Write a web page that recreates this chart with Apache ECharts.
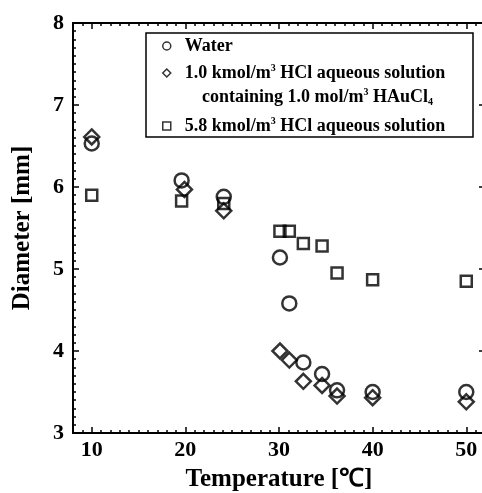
<!DOCTYPE html>
<html>
<head>
<meta charset="utf-8">
<script src="https://cdn.jsdelivr.net/npm/echarts@6/dist/echarts.min.js"></script>
<style>html,body{margin:0;padding:0;background:#fff;}#c{width:482px;height:493px;}</style>
</head>
<body>
<div id="c"></div>
<script>
// Data
var waterT = [10, 19.6, 24.1, 30.1, 31.1, 32.6, 34.6, 36.2, 40.0, 50.0];
var waterD = [6.53, 6.08, 5.88, 5.14, 4.58, 3.86, 3.72, 3.52, 3.50, 3.50];
var hclT = [10, 19.9, 24.1, 30.1, 31.1, 32.6, 34.6, 36.2, 40.0, 50.0];
var hclD = [6.61, 5.97, 5.71, 4.00, 3.89, 3.63, 3.58, 3.45, 3.43, 3.38];
var hcl58T = [10, 19.6, 24.1, 30.1, 31.1, 32.6, 34.6, 36.2, 40.0, 50.0];
var hcl58D = [5.90, 5.83, 5.80, 5.46, 5.46, 5.31, 5.28, 4.95, 4.87, 4.85];
var seriesNames = ['Water', '1.0 kmol/m3 HCl aqueous solution', '5.8 kmol/m3 HCl aqueous solution'];
var xLabels = [10, 20, 30, 40, 50];
var yLabels = [3, 4, 5, 6, 7, 8];

var FONT = "'Liberation Serif', 'Times New Roman', serif";
function zip(a, b) { return a.map(function (v, i) { return [v, b[i]]; }); }

var richStyles = {
  t: {fontSize: 18, fontWeight: 'bold', fontFamily: FONT, color: '#000', lineHeight: 20},
  sup: {fontSize: 10, fontWeight: 'bold', fontFamily: FONT, color: '#000', lineHeight: 11, verticalAlign: 'top'},
  sub: {fontSize: 10, fontWeight: 'bold', fontFamily: FONT, color: '#000', lineHeight: 11, verticalAlign: 'bottom'}
};
var legendText = {};
legendText[seriesNames[0]] = '{t|Water}';
legendText[seriesNames[1]] = '{t|1.0 kmol/m}{sup|3}{t| HCl aqueous solution}';
legendText[seriesNames[2]] = '{t|5.8 kmol/m}{sup|3}{t| HCl aqueous solution}';

var axisLineStyle = {color: '#000', width: 2};
var tickStyle = {color: '#000', width: 1.5};

function makeX(pos, withLabel) {
  return {
    type: 'value', position: pos, min: 8, max: 52, interval: 1,
    axisLine: {show: true, onZero: false, lineStyle: axisLineStyle},
    axisTick: {show: true, inside: true, length: 3, lineStyle: tickStyle},
    splitLine: {show: false},
    axisLabel: withLabel ? {
      show: true, margin: 6, color: '#000', fontSize: 22, fontWeight: 'bold', fontFamily: FONT,
      formatter: function (v) { return xLabels.indexOf(v) >= 0 ? String(v) : ''; }
    } : {show: false},
    name: withLabel ? 'Temperature [℃]' : '',
    nameLocation: 'middle', nameGap: 34,
    nameTextStyle: {color: '#000', fontSize: 25, fontWeight: 'bold', fontFamily: FONT}
  };
}
function makeXMajor(pos) {
  return {
    type: 'value', position: pos, min: 8, max: 52, splitNumber: 4,
    axisLine: {show: false}, axisLabel: {show: false}, splitLine: {show: false},
    axisTick: {show: true, inside: true, length: 6, lineStyle: tickStyle}
  };
}
function makeY(pos, withLabel) {
  return {
    type: 'value', position: pos, min: 3, max: 8, interval: 1,
    axisLine: {show: true, onZero: false, lineStyle: axisLineStyle},
    axisTick: {show: true, inside: true, length: 6, lineStyle: tickStyle},
    minorTick: {show: true, splitNumber: 10, length: 3, lineStyle: tickStyle},
    splitLine: {show: false},
    axisLabel: withLabel ? {
      show: true, margin: 9, color: '#000', fontSize: 22, fontWeight: 'bold', fontFamily: FONT,
      formatter: function (v) { return yLabels.indexOf(v) >= 0 ? String(v) : ''; }
    } : {show: false},
    name: withLabel ? 'Diameter [mm]' : '',
    nameLocation: 'middle', nameGap: 38, nameRotate: 90,
    nameTextStyle: {color: '#000', fontSize: 25, fontWeight: 'bold', fontFamily: FONT}
  };
}

function legendFor(name, icon, top) {
  return {
    data: [{name: name, icon: icon}],
    left: 162, top: top, padding: 0, orient: 'vertical',
    itemWidth: 8, itemHeight: 8, selectedMode: false,
    itemStyle: {color: 'rgba(0,0,0,0)', borderColor: '#000', borderWidth: 1.5},
    formatter: function (n) { return legendText[n]; },
    textStyle: {padding: [0, 0, 0, 9], rich: richStyles}
  };
}

var hollow = {color: 'rgba(0,0,0,0)', borderColor: '#000', borderWidth: 2.5};

var chart = echarts.init(document.getElementById('c'), null, {renderer: 'canvas'});
chart.setOption({
  backgroundColor: '#fff',
  animation: false,
  grid: {left: 73, width: 412, top: 23, height: 410, containLabel: false, outerBoundsMode: 'none'},
  xAxis: [makeX('bottom', true), makeX('top', false), makeXMajor('bottom'), makeXMajor('top')],
  yAxis: [makeY('left', true), makeY('right', false)],
  legend: [
    legendFor(seriesNames[0], 'circle', 37),
    legendFor(seriesNames[1], 'diamond', 63),
    legendFor(seriesNames[2], 'rect', 116)
  ],
  graphic: [
    {type: 'rect', shape: {x: 146, y: 33, width: 327, height: 104},
     style: {fill: 'rgba(0,0,0,0)', stroke: '#000', lineWidth: 1.5}, z: 1},
    {type: 'text', left: 202, top: 87,
     style: {text: '{t|containing 1.0 mol/m}{sup|3}{t| HAuCl}{sub|4}', rich: richStyles}, z: 3}
  ],
  series: [
    {name: seriesNames[0], type: 'scatter', symbol: 'circle', symbolSize: 14,
     itemStyle: hollow, data: zip(waterT, waterD), z: 3},
    {name: seriesNames[1], type: 'scatter', symbol: 'diamond', symbolSize: 15,
     itemStyle: hollow, data: zip(hclT, hclD), z: 3},
    {name: seriesNames[2], type: 'scatter', symbol: 'rect', symbolSize: 11,
     itemStyle: hollow, data: zip(hcl58T, hcl58D), z: 3}
  ]
});
</script>
</body>
</html>
